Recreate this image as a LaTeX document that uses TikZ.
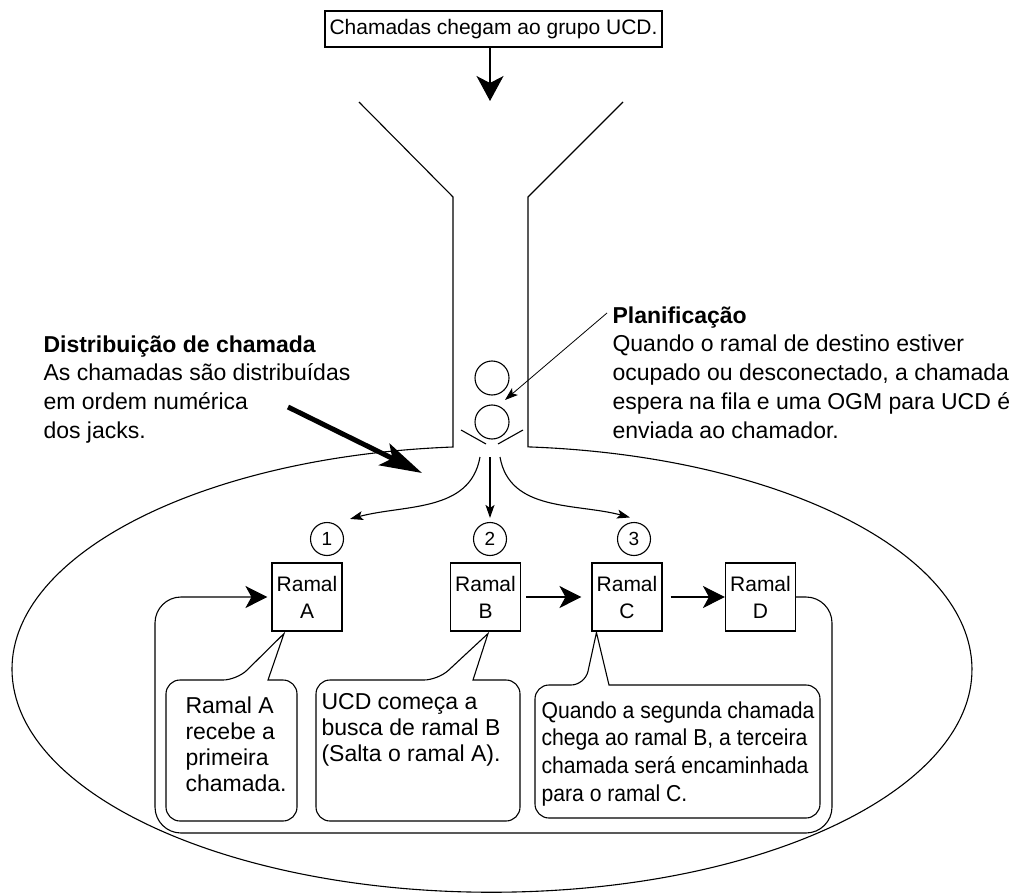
\documentclass[tikz,border=0pt]{standalone}
\usepackage{fontspec}
\setmainfont{Liberation Sans}
\newfontfamily\narrowsans[FakeStretch=0.92]{Liberation Sans}
\usetikzlibrary{arrows.meta}

\tikzset{
  ramal/.style={draw, minimum width=70, minimum height=68, inner sep=0, align=center, font=\fontsize{21}{27}\selectfont},
  numcirc/.style={draw, circle, minimum size=33, inner sep=0, font=\fontsize{19}{19}\selectfont},
  note/.style={anchor=north west, inner sep=0, align=left, font=\fontsize{23}{28.7}\selectfont},
  bigtip/.style={-{Stealth[length=25pt,width=27pt,inset=7pt]}},
  midtip/.style={-{Stealth[length=22pt,width=22pt,inset=6pt]}},
  thintip/.style={-{Stealth[length=13pt,width=9pt,inset=3pt]}},
}

\begin{document}
\begin{tikzpicture}[x=1pt, y=-1pt, line width=1.1pt]
    \useasboundingbox (0,0) rectangle (1031,896);
    % calls coming in
    \node[draw, inner sep=0, minimum width=337, minimum height=36, font=\fontsize{21}{25}\selectfont] (arrive) at (493.5,29) {Chamadas chegam ao grupo UCD.};
    \coordinate (inlet) at (490,101);
    \draw[bigtip] (arrive.south -| inlet) -- (inlet);
    % funnel and group
    \draw (359,102) -- (453,197) -- (453,447)
      arc[start angle=94.66, end angle=445.7, x radius=480pt, y radius=223pt]
      -- (528,197) -- (623,102);
    % queue
    \node[draw, circle, minimum size=34, inner sep=0] (call1) at (492,378) {};
    \node[draw, circle, minimum size=34, inner sep=0] (call2) at (492,422) {};
    \draw (461,430) -- (486,444);
    \draw (523,430) -- (498,444);
    % texts
    \node[note] (distText) at (43,335) {\textbf{Distribuição de chamada}\\As chamadas são distribuídas\\em ordem numérica\\dos jacks.};
    \node[note] (planText) at (612,306) {\textbf{Planificação}\\Quando o ramal de destino estiver\\ocupado ou desconectado, a chamada\\espera na fila e uma OGM para UCD é\\enviada ao chamador.};
    \draw[thintip, line width=0.8pt] ([shift={(-5pt,-7pt)}]planText.north west) -- ([shift={(13pt,22pt)}]call2.center);
    \coordinate (distTail) at (288,407);
    \coordinate (distTip) at (422,473);
    \draw[line width=5pt, -{Stealth[length=42pt,width=24pt,inset=9pt]}] (distTail) -- (distTip);
    % distribution
    \node[numcirc] (num1) at (327,539) {1};
    \node[numcirc] (num2) at (490,539) {2};
    \node[numcirc] (num3) at (634,539) {3};
    \coordinate (fanL) at (480,457);
    \coordinate (fanM) at (490,457);
    \coordinate (fanR) at (500,457);
    \draw[thintip] (fanL) to[out=260, in=15] ([shift={(11pt,8pt)}]num1.north east);
    \draw[thintip] (fanM) -- ([yshift=4pt]num2.north);
    \draw[thintip] (fanR) to[out=280, in=165] ([shift={(-4pt,4.5pt)}]num3.north);
    % extensions
    \node[ramal] (ramalA) at (307,597) {Ramal\\A};
    \node[ramal] (ramalB) at (485.5,597) {Ramal\\B};
    \node[ramal] (ramalC) at (627,597) {Ramal\\C};
    \node[ramal] (ramalD) at (760.5,597) {Ramal\\D};
    \draw[midtip] ([xshift=5pt]ramalB.east) -- ([xshift=-10pt]ramalC.west);
    \draw[midtip] ([xshift=8pt]ramalC.east) -- (ramalD.west);
    \draw[midtip, rounded corners=26] (ramalD.east) -- (832,597) -- (832,833) -- (155,833) -- (155,597) -- ([xshift=-4pt]ramalA.west);
    % callouts
    \draw (297,750) [rounded corners=14] -- (297,821) -- (166,821) -- (166,680) -- (237,680)
      [sharp corners] -- ([shift={(-23pt,-2pt)}]ramalA.south) -- (268,680)
      [rounded corners=14] -- (297,680) -- cycle;
    \draw (520,750) [rounded corners=14] -- (520,821) -- (316,821) -- (316,680) -- (438,680)
      [sharp corners] -- ([shift={(2.5pt,-2pt)}]ramalB.south) -- (473,680)
      [rounded corners=14] -- (520,680) -- cycle;
    \draw (820,750) [rounded corners=14] -- (820,818) -- (535,818) -- (535,685) -- (585,685)
      [sharp corners] -- ([shift={(5pt,-1pt)}]ramalC.south west) -- (609,685)
      [rounded corners=14] -- (820,685) -- cycle;
    \node[note, font=\fontsize{23}{26}\selectfont] (noteA) at (185,696) {Ramal A\\recebe a\\primeira\\chamada.};
    \node[note, font=\fontsize{23}{26}\selectfont] (noteB) at (321,692.5) {UCD começa a\\busca de ramal B\\(Salta o ramal A).};
    \node[note, font=\narrowsans\fontsize{23}{27.7}\selectfont] (noteC) at (541,701) {Quando a segunda chamada\\chega ao ramal B, a terceira\\chamada será encaminhada\\para o ramal C.};
\end{tikzpicture}
\end{document}
